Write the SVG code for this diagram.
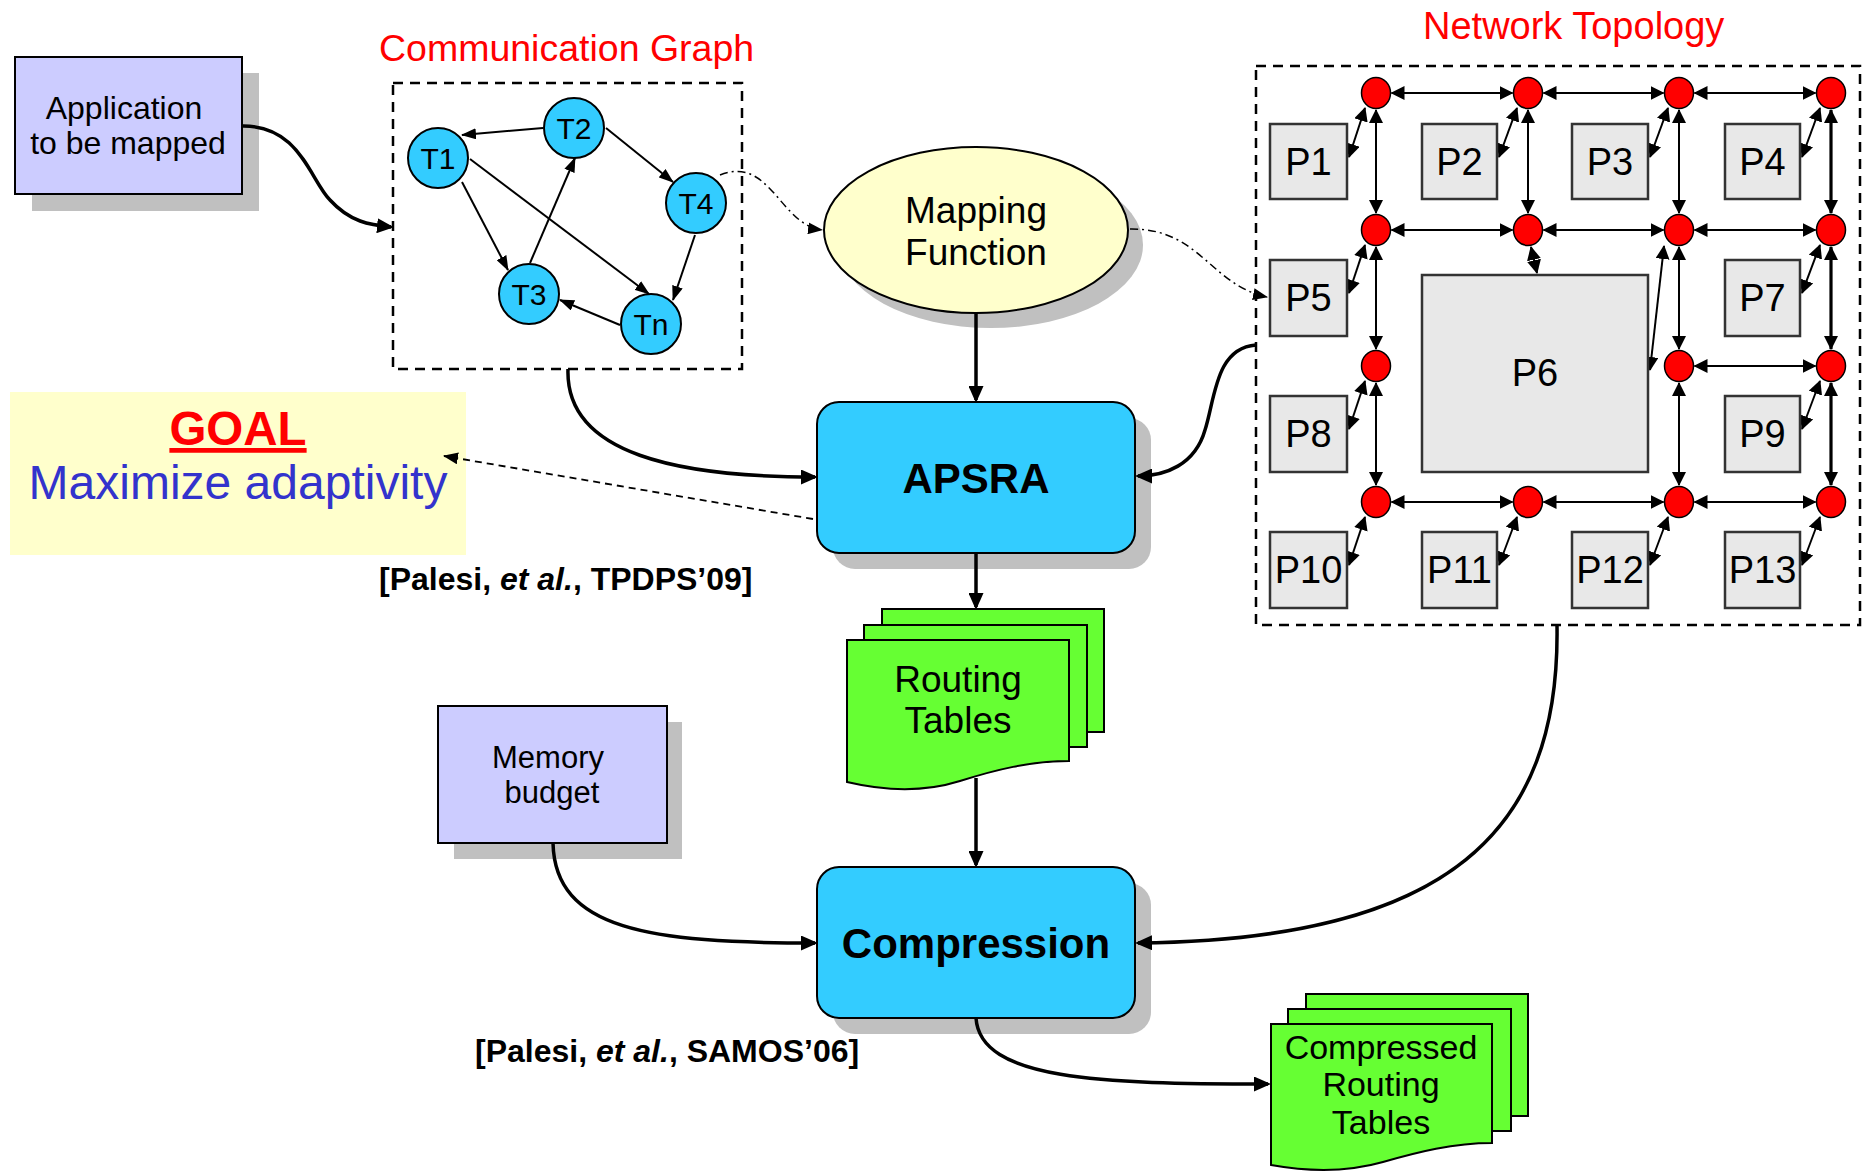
<svg xmlns="http://www.w3.org/2000/svg" width="1867" height="1174" viewBox="0 0 1867 1174">
<defs>
<style>
text { font-family: "Liberation Sans", Arial, sans-serif; fill:#000; }
.shadow { fill:#C0C0C0; }
.lav { fill:#CCCCFF; stroke:#000; stroke-width:2; }
.cyan { fill:#33CCFF; stroke:#000; stroke-width:2; }
.green { fill:#66FF33; stroke:#000; stroke-width:2; }
.proc { fill:#E8E8E8; stroke:#333; stroke-width:2.5; }
.router { fill:#FF0000; stroke:#000; stroke-width:1.5; }
.dashbox { fill:none; stroke:#000; stroke-width:2.5; stroke-dasharray:10,7; }
.conn { fill:none; stroke:#000; stroke-width:3.5; marker-end:url(#ah); }
.dd { fill:none; stroke:#000; stroke-width:1.5; stroke-dasharray:8,4,2,4; marker-end:url(#ahm); }
.goalarrow { fill:none; stroke:#000; stroke-width:1.8; stroke-dasharray:7,5; marker-end:url(#ahm); }
.edge { fill:none; stroke:#000; stroke-width:2; marker-end:url(#ahg); }
.link { fill:none; stroke:#000; stroke-width:2; marker-start:url(#ahl); marker-end:url(#ahl); }
.linkb { fill:none; stroke:#000; stroke-width:3.2; marker-start:url(#ahl); marker-end:url(#ahl); }
.title { fill:#FF0000; font-size:37.5px; }
.lbl { font-size:32px; text-anchor:middle; }
.plbl { font-size:38px; text-anchor:middle; }
.tlbl { font-size:30px; text-anchor:middle; }
.big { font-size:42px; font-weight:bold; text-anchor:middle; }
.cite { font-size:32px; font-weight:bold; }
</style>
<marker id="ah" viewBox="0 0 17 15" refX="14" refY="7.5" markerWidth="17" markerHeight="15" markerUnits="userSpaceOnUse" orient="auto"><path d="M0,0 L17,7.5 L0,15 z" fill="#000"/></marker>
<marker id="ahm" viewBox="0 0 15 12" refX="14" refY="6" markerWidth="15" markerHeight="12" markerUnits="userSpaceOnUse" orient="auto"><path d="M0,0 L15,6 L0,12 z" fill="#000"/></marker>
<marker id="ahg" viewBox="0 0 15 11" refX="14" refY="5.5" markerWidth="15" markerHeight="11" markerUnits="userSpaceOnUse" orient="auto"><path d="M0,0 L15,5.5 L0,11 z" fill="#000"/></marker>
<marker id="ahl" viewBox="0 0 14 14" refX="13" refY="7" markerWidth="14" markerHeight="14" markerUnits="userSpaceOnUse" orient="auto-start-reverse"><path d="M0,0 L14,7 L0,14 z" fill="#000"/></marker>
</defs>
<rect width="1867" height="1174" fill="#FFFFFF"/>

<!-- Titles -->
<text class="title" x="379" y="61">Communication Graph</text>
<text class="title" x="1423" y="39" style="font-size:38px">Network Topology</text>

<!-- Application -->
<g id="application">
<rect class="shadow" x="32" y="73" width="227" height="138"/>
<rect class="lav" x="15" y="57" width="227" height="137"/>
<text class="lbl" x="124" y="119">Application</text>
<text class="lbl" x="128" y="154">to be mapped</text>
</g>

<!-- Communication graph -->
<g id="communication-graph">
<rect class="dashbox" x="393" y="83" width="349" height="286"/>
<g id="task-edges">
<line class="edge" x1="543" y1="128" x2="462" y2="135"/>
<line class="edge" x1="606" y1="128" x2="673" y2="182"/>
<line class="edge" x1="462" y1="182" x2="508" y2="270"/>
<line class="edge" x1="470" y1="159" x2="649" y2="294"/>
<line class="edge" x1="530" y1="263" x2="575" y2="158"/>
<line class="edge" x1="695" y1="235" x2="673" y2="300"/>
<line class="edge" x1="620" y1="325" x2="560" y2="300"/>
</g>
<g id="T1"><circle class="cyan" cx="438" cy="158" r="30"/><text class="tlbl" x="438" y="169">T1</text></g>
<g id="T2"><circle class="cyan" cx="574" cy="128" r="30"/><text class="tlbl" x="574" y="139">T2</text></g>
<g id="T4"><circle class="cyan" cx="696" cy="203" r="30"/><text class="tlbl" x="696" y="214">T4</text></g>
<g id="T3"><circle class="cyan" cx="529" cy="294" r="30"/><text class="tlbl" x="529" y="305">T3</text></g>
<g id="Tn"><circle class="cyan" cx="651" cy="324" r="30"/><text class="tlbl" x="651" y="335">Tn</text></g>
</g>

<!-- Mapping function -->
<g id="mapping-function">
<ellipse class="shadow" cx="991" cy="245" rx="152" ry="83"/>
<ellipse cx="976" cy="230" rx="152" ry="83" fill="#FFFFCC" stroke="#000" stroke-width="2"/>
<text class="lbl" x="976" y="223" style="font-size:37px">Mapping</text>
<text class="lbl" x="976" y="265" style="font-size:37px">Function</text>
</g>

<!-- GOAL -->
<g id="goal">
<rect x="10" y="392" width="456" height="163" fill="#FFFFCC"/>
<text x="238" y="445" text-anchor="middle" style="font-size:47.5px;font-weight:bold;fill:#FF0000;text-decoration:underline">GOAL</text>
<text x="238" y="499" text-anchor="middle" style="font-size:48px;fill:#3333CC">Maximize adaptivity</text>
</g>

<!-- APSRA -->
<g id="apsra">
<rect class="shadow" x="833" y="418" width="318" height="151" rx="22"/>
<rect class="cyan" x="817" y="402" width="318" height="151" rx="22"/>
<text class="big" x="976" y="493">APSRA</text>
</g>
<text class="cite" x="379" y="590">[Palesi, <tspan font-style="italic">et al.</tspan>, TPDPS’09]</text>

<!-- Routing tables -->
<g id="routing-tables">
<rect class="green" x="882" y="609" width="222" height="123"/>
<rect class="green" x="864" y="625" width="223" height="122"/>
<path class="green" d="M847,640 H1069 V761 C1030,761 995,770 960,781 C925,792 885,791 847,782 Z"/>
<text class="lbl" x="958" y="692" style="font-size:37px">Routing</text>
<text class="lbl" x="958" y="733" style="font-size:37px">Tables</text>
</g>

<!-- Memory budget -->
<g id="memory-budget">
<rect class="shadow" x="454" y="722" width="228" height="137"/>
<rect class="lav" x="438" y="706" width="229" height="137"/>
<text class="lbl" x="548" y="768" style="font-size:31px">Memory</text>
<text class="lbl" x="552" y="803" style="font-size:31px">budget</text>
</g>

<!-- Compression -->
<g id="compression">
<rect class="shadow" x="833" y="883" width="318" height="151" rx="22"/>
<rect class="cyan" x="817" y="867" width="318" height="151" rx="22"/>
<text class="big" x="976" y="958">Compression</text>
</g>
<text class="cite" x="475" y="1062">[Palesi, <tspan font-style="italic">et al.</tspan>, SAMOS’06]</text>

<!-- Compressed routing tables -->
<g id="compressed-routing-tables">
<rect class="green" x="1306" y="994" width="222" height="122"/>
<rect class="green" x="1288" y="1009" width="223" height="122"/>
<path class="green" d="M1271,1024 H1492 V1143 C1453,1143 1418,1152 1383,1162 C1348,1172 1310,1172 1271,1165 Z"/>
<text class="lbl" x="1381" y="1059" style="font-size:34px">Compressed</text>
<text class="lbl" x="1381" y="1096" style="font-size:34px">Routing</text>
<text class="lbl" x="1381" y="1134" style="font-size:34px">Tables</text>
</g>

<!-- Network topology -->
<g id="network-topology">
<rect class="dashbox" x="1256" y="66" width="604" height="559"/>
<g id="mesh-links">
<line class="link" x1="1391.5" y1="93" x2="1512.5" y2="93"/>
<line class="link" x1="1543.5" y1="93" x2="1663.5" y2="93"/>
<line class="link" x1="1694.5" y1="93" x2="1815.5" y2="93"/>
<line class="link" x1="1391.5" y1="230" x2="1512.5" y2="230"/>
<line class="link" x1="1543.5" y1="230" x2="1663.5" y2="230"/>
<line class="link" x1="1694.5" y1="230" x2="1815.5" y2="230"/>
<line class="link" x1="1694.5" y1="366" x2="1815.5" y2="366"/>
<line class="link" x1="1391.5" y1="502" x2="1512.5" y2="502"/>
<line class="link" x1="1543.5" y1="502" x2="1663.5" y2="502"/>
<line class="link" x1="1694.5" y1="502" x2="1815.5" y2="502"/>
<line class="link" x1="1376" y1="110" x2="1376" y2="213"/>
<line class="link" x1="1376" y1="247" x2="1376" y2="349"/>
<line class="link" x1="1376" y1="383" x2="1376" y2="485"/>
<line class="link" x1="1528" y1="110" x2="1528" y2="213"/>
<line class="link" x1="1679" y1="110" x2="1679" y2="213"/>
<line class="link" x1="1679" y1="247" x2="1679" y2="349"/>
<line class="link" x1="1679" y1="383" x2="1679" y2="485"/>
<line class="linkb" x1="1831" y1="110" x2="1831" y2="213"/>
<line class="linkb" x1="1831" y1="247" x2="1831" y2="349"/>
<line class="linkb" x1="1831" y1="383" x2="1831" y2="485"/>
<line class="link" x1="1365" y1="108" x2="1349" y2="157"/>
<line class="link" x1="1517" y1="108" x2="1499" y2="157"/>
<line class="link" x1="1668" y1="108" x2="1650" y2="157"/>
<line class="link" x1="1820" y1="108" x2="1802" y2="157"/>
<line class="link" x1="1365" y1="245" x2="1349" y2="293"/>
<line class="link" x1="1820" y1="245" x2="1802" y2="293"/>
<line class="link" x1="1365" y1="381" x2="1349" y2="429"/>
<line class="link" x1="1820" y1="381" x2="1802" y2="429"/>
<line class="link" x1="1365" y1="517" x2="1349" y2="565"/>
<line class="link" x1="1517" y1="517" x2="1499" y2="565"/>
<line class="link" x1="1668" y1="517" x2="1650" y2="565"/>
<line class="link" x1="1820" y1="517" x2="1802" y2="565"/>
<line class="link" x1="1531" y1="247" x2="1537" y2="273"/>
<line class="link" x1="1664" y1="246" x2="1650" y2="370"/>
</g>
<g id="processors">
<g id="P1"><rect class="proc" x="1270" y="124" width="77" height="75"/><text class="plbl" x="1308.5" y="175">P1</text></g>
<g id="P2"><rect class="proc" x="1422" y="124" width="75" height="75"/><text class="plbl" x="1459.5" y="175">P2</text></g>
<g id="P3"><rect class="proc" x="1572" y="124" width="76" height="75"/><text class="plbl" x="1610" y="175">P3</text></g>
<g id="P4"><rect class="proc" x="1725" y="124" width="75" height="75"/><text class="plbl" x="1762.5" y="175">P4</text></g>
<g id="P5"><rect class="proc" x="1270" y="260" width="77" height="76"/><text class="plbl" x="1308.5" y="311">P5</text></g>
<g id="P6"><rect class="proc" x="1422" y="275" width="226" height="197"/><text class="plbl" x="1535" y="386">P6</text></g>
<g id="P7"><rect class="proc" x="1725" y="260" width="75" height="76"/><text class="plbl" x="1762.5" y="311">P7</text></g>
<g id="P8"><rect class="proc" x="1270" y="396" width="77" height="76"/><text class="plbl" x="1308.5" y="447">P8</text></g>
<g id="P9"><rect class="proc" x="1725" y="396" width="75" height="76"/><text class="plbl" x="1762.5" y="447">P9</text></g>
<g id="P10"><rect class="proc" x="1270" y="532" width="77" height="76"/><text class="plbl" x="1308.5" y="583">P10</text></g>
<g id="P11"><rect class="proc" x="1422" y="532" width="75" height="76"/><text class="plbl" x="1459.5" y="583">P11</text></g>
<g id="P12"><rect class="proc" x="1572" y="532" width="76" height="76"/><text class="plbl" x="1610" y="583">P12</text></g>
<g id="P13"><rect class="proc" x="1725" y="532" width="75" height="76"/><text class="plbl" x="1762.5" y="583">P13</text></g>
</g>
<g id="routers">
<ellipse class="router" cx="1376" cy="93" rx="14.5" ry="15.5"/>
<ellipse class="router" cx="1528" cy="93" rx="14.5" ry="15.5"/>
<ellipse class="router" cx="1679" cy="93" rx="14.5" ry="15.5"/>
<ellipse class="router" cx="1831" cy="93" rx="14.5" ry="15.5"/>
<ellipse class="router" cx="1376" cy="230" rx="14.5" ry="15.5"/>
<ellipse class="router" cx="1528" cy="230" rx="14.5" ry="15.5"/>
<ellipse class="router" cx="1679" cy="230" rx="14.5" ry="15.5"/>
<ellipse class="router" cx="1831" cy="230" rx="14.5" ry="15.5"/>
<ellipse class="router" cx="1376" cy="366" rx="14.5" ry="15.5"/>
<ellipse class="router" cx="1679" cy="366" rx="14.5" ry="15.5"/>
<ellipse class="router" cx="1831" cy="366" rx="14.5" ry="15.5"/>
<ellipse class="router" cx="1376" cy="502" rx="14.5" ry="15.5"/>
<ellipse class="router" cx="1528" cy="502" rx="14.5" ry="15.5"/>
<ellipse class="router" cx="1679" cy="502" rx="14.5" ry="15.5"/>
<ellipse class="router" cx="1831" cy="502" rx="14.5" ry="15.5"/>
</g>
</g>

<!-- Connectors -->
<g id="connectors">
<path class="conn" d="M242,126 C300,125 310,180 330,200 C350,222 370,225 391,227"/>
<path class="dd" d="M720,175 C770,155 780,225 822,230"/>
<path class="dd" d="M1130,229 C1200,228 1210,285 1267,297"/>
<line class="conn" x1="976" y1="313" x2="976" y2="400"/>
<path class="conn" d="M568,369 C565,455 680,477 815,477"/>
<path class="conn" d="M1256,345 C1215,348 1215,400 1205,430 C1195,465 1165,476 1138,476"/>
<line class="goalarrow" x1="813" y1="519" x2="444" y2="456"/>
<line class="conn" x1="976" y1="553" x2="976" y2="607"/>
<line class="conn" x1="976" y1="778" x2="976" y2="865"/>
<path class="conn" d="M553,843 C555,930 650,943 815,943"/>
<path class="conn" d="M1557,626 C1560,830 1450,940 1138,943"/>
<path class="conn" d="M976,1018 C980,1080 1100,1084 1268,1084"/>
</g>
</svg>
